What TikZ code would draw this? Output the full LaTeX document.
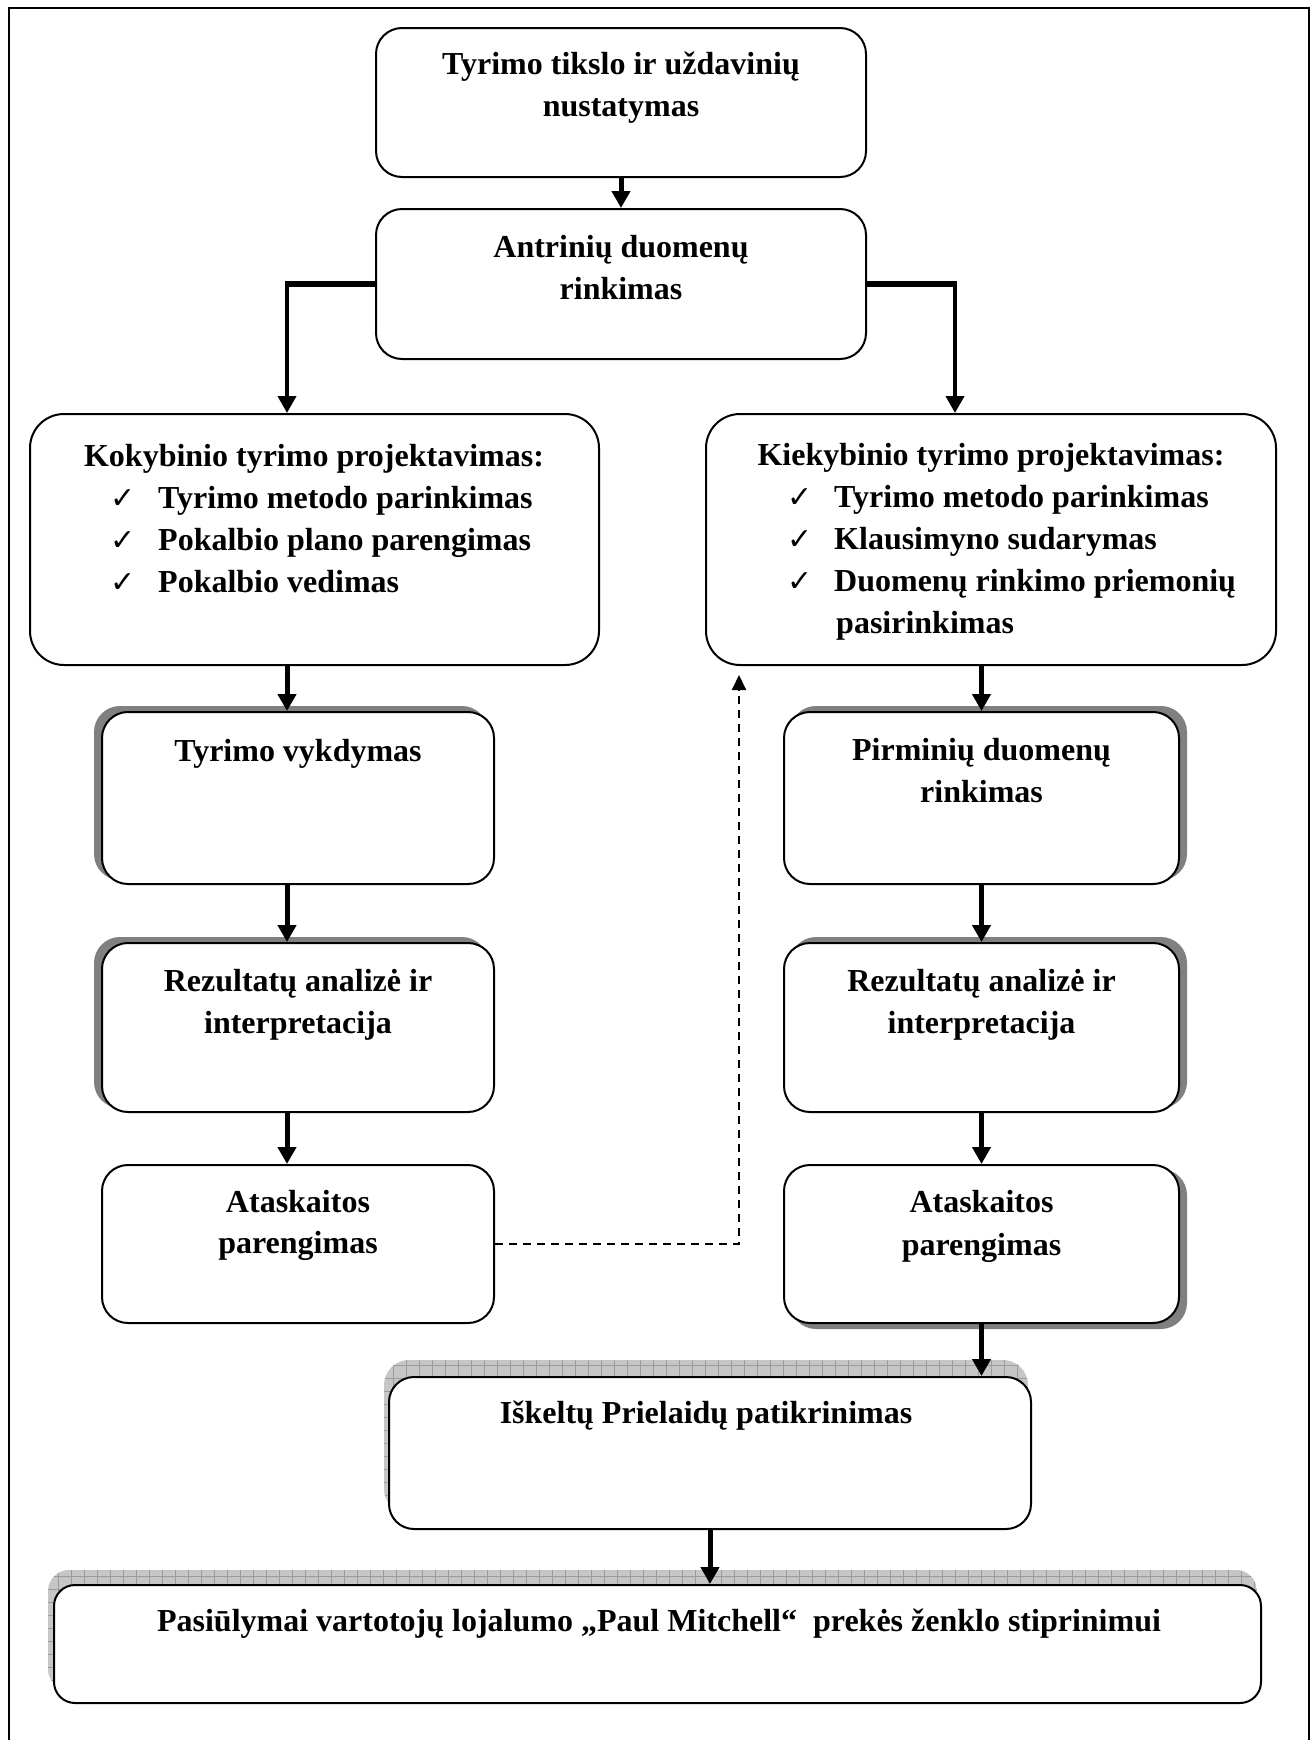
\documentclass[tikz,border=0pt]{standalone}
\usepackage{fontspec}
\setmainfont{Liberation Serif}
\newfontfamily\checkfont{DejaVu Sans}
\usetikzlibrary{arrows.meta,backgrounds}
\definecolor{shadowgray}{HTML}{808080}
\definecolor{hatchfill}{HTML}{C6C6C6}
\definecolor{hatchline}{HTML}{9C9C9C}

% solid drop shadow behind a named box: name, dx, dy, corner radius
\newcommand\solidshadow[4]{%
  \fill[shadowgray, rounded corners=#4]
    ([shift={(#2,#3)}]#1.south west) rectangle ([shift={(#2,#3)}]#1.north east);}

\begin{document}
\begin{tikzpicture}[x=1pt, y=-1pt,
  box/.style={draw, fill=white, line width=2pt, rectangle, inner sep=0pt, rounded corners=#1},
  box/.default=26pt,
  lbl/.style={anchor=base, inner sep=0pt, font=\fontsize{32}{38}\selectfont\bfseries},
  item/.style={anchor=base west, inner sep=0pt, font=\fontsize{32}{38}\selectfont\bfseries},
  chk/.style={anchor=base west, inner sep=0pt, font=\checkfont\fontsize{30}{34}\selectfont},
  arr/.style={line width=5pt, -{Triangle[length=17pt, width=18pt]}},
  branchV/.style={line width=4pt, -{Triangle[length=17pt, width=18pt]}},
  branchH/.style={line width=5.5pt},
  dasharr/.style={line width=2pt, dash pattern=on 8pt off 6pt, -{Triangle[length=15pt, width=14pt]}},
  gridline/.style={hatchline, line width=1pt}
]
\useasboundingbox (0,0) rectangle (1316,1740);

% page frame, open at the bottom
\draw[line width=2.5pt] (9,1745) -- (9,8) -- (1309,8) -- (1309,1745);

% column guides
\coordinate (colL) at (287,0);
\coordinate (brR) at (955,0);
\coordinate (dashtip) at (739,675);

% boxes
\node[box] (b1) at (621,102.5) [minimum width=490pt, minimum height=149pt] {};
\node[box] (b2) at (621,284) [minimum width=490pt, minimum height=150pt] {};
\node[box=34pt] (b3) at (314.5,539.5) [minimum width=569pt, minimum height=251pt] {};
\node[box=34pt] (b4) at (991,539.5) [minimum width=570pt, minimum height=251pt] {};
\node[box] (b5) at (298,798) [minimum width=392pt, minimum height=172pt] {};
\node[box] (b6) at (298,1027.5) [minimum width=392pt, minimum height=169pt] {};
\node[box] (b7) at (298,1244) [minimum width=392pt, minimum height=158pt] {};
\node[box] (b8) at (981.5,798) [minimum width=395pt, minimum height=172pt] {};
\node[box] (b9) at (981.5,1027.5) [minimum width=395pt, minimum height=169pt] {};
\node[box] (b10) at (981.5,1244) [minimum width=395pt, minimum height=158pt] {};
\node[box=25pt] (b11) at (710,1453) [minimum width=642pt, minimum height=152pt] {};
\node[box=21pt] (b12) at (657.5,1644) [minimum width=1207pt, minimum height=118pt] {};

% shadows
\begin{scope}[on background layer]
  \solidshadow{b5}{-7}{-5}{26pt}
  \solidshadow{b6}{-7}{-5}{26pt}
  \solidshadow{b8}{7}{-5}{26pt}
  \solidshadow{b9}{7}{-5}{26pt}
  \solidshadow{b10}{7}{5}{26pt}
  % grid-patterned shadows of the two lower boxes
  \begin{scope}
    \clip[rounded corners=25pt] ([shift={(-4,-16)}]b11.south west) rectangle ([shift={(-4,-16)}]b11.north east);
    \fill[hatchfill] ([shift={(-4,-16)}]b11.south west) rectangle ([shift={(-4,-16)}]b11.north east);
    \foreach \gx in {380,393,...,1040} \draw[gridline] (\gx,1355) -- (\gx,1530);
    \foreach \gy in {1365,1378,...,1530} \draw[gridline] (380,\gy) -- (1040,\gy);
  \end{scope}
  \begin{scope}
    \clip[rounded corners=21pt] ([shift={(-5,-14)}]b12.south west) rectangle ([shift={(-5,-14)}]b12.north east);
    \fill[hatchfill] ([shift={(-5,-14)}]b12.south west) rectangle ([shift={(-5,-14)}]b12.north east);
    \foreach \gx in {45,58,...,1265} \draw[gridline] (\gx,1565) -- (\gx,1705);
    \foreach \gy in {1576,1589,...,1705} \draw[gridline] (45,\gy) -- (1265,\gy);
  \end{scope}
\end{scope}

% texts
\node[lbl] (b1a) at (621,74) {Tyrimo tikslo ir uždavinių};
\node[lbl] (b1b) at (621,116) {nustatymas};
\node[lbl] (b2a) at (621,257) {Antrinių duomenų};
\node[lbl] (b2b) at (621,299) {rinkimas};

\node[lbl] (b3a) at (314,466) {Kokybinio tyrimo projektavimas:};
\node[chk] (c3a) at (110,508) {✓};
\node[item] (t3a) at (158,508) {Tyrimo metodo parinkimas};
\node[chk] (c3b) at (110,550) {✓};
\node[item] (t3b) at (158,550) {Pokalbio plano parengimas};
\node[chk] (c3c) at (110,592) {✓};
\node[item] (t3c) at (158,592) {Pokalbio vedimas};

\node[lbl] (b4a) at (991,465) {Kiekybinio tyrimo projektavimas:};
\node[chk] (c4a) at (787,507) {✓};
\node[item] (t4a) at (834,507) {Tyrimo metodo parinkimas};
\node[chk] (c4b) at (787,549) {✓};
\node[item] (t4b) at (834,549) {Klausimyno sudarymas};
\node[chk] (c4c) at (787,591) {✓};
\node[item] (t4c) at (834,591) {Duomenų rinkimo priemonių};
\node[item] (t4d) at (836,633) {pasirinkimas};

\node[lbl] (b5a) at (298,761) {Tyrimo vykdymas};
\node[lbl] (b6a) at (298,991) {Rezultatų analizė ir};
\node[lbl] (b6b) at (298,1033) {interpretacija};
\node[lbl] (b7a) at (298,1212) {Ataskaitos};
\node[lbl] (b7b) at (298,1253) {parengimas};

\node[lbl] (b8a) at (981.5,760) {Pirminių duomenų};
\node[lbl] (b8b) at (981.5,802) {rinkimas};
\node[lbl] (b9a) at (981.5,991) {Rezultatų analizė ir};
\node[lbl] (b9b) at (981.5,1033) {interpretacija};
\node[lbl] (b10a) at (981.5,1212) {Ataskaitos};
\node[lbl] (b10b) at (981.5,1255) {parengimas};

\node[lbl] (b11a) at (706,1423) {Iškeltų Prielaidų patikrinimas};
\node[lbl] (b12a) at (659,1631) {Pasiūlymai vartotojų lojalumo „Paul Mitchell“ \ prekės ženklo stiprinimui};

% connectors
\draw[arr] (b1.south) -- (b2.north);
\draw[branchH] ([xshift=1pt]b2.west) -- ([xshift=-2pt]b2.west -| colL);
\draw[branchV] (b2.west -| colL) -- (b3.north -| colL);
\draw[branchH] ([xshift=-1pt]b2.east) -- ([xshift=2pt]b2.east -| brR);
\draw[branchV] (b2.east -| brR) -- (b4.north -| brR);

\draw[arr] (b3.south -| colL) -- (b5.north -| colL);
\draw[arr] (b5.south -| colL) -- (b6.north -| colL);
\draw[arr] (b6.south -| colL) -- (b7.north -| colL);

\draw[arr] (b4.south -| b8.north) -- (b8.north);
\draw[arr] (b8.south) -- (b9.north);
\draw[arr] (b9.south) -- (b10.north);
\draw[arr] (b10.south) -- (b10.south |- b11.north);
\draw[arr] (b11.south) -- (b11.south |- b12.north);

\draw[dasharr] (b7.east) -| (dashtip);
\end{tikzpicture}
\end{document}
